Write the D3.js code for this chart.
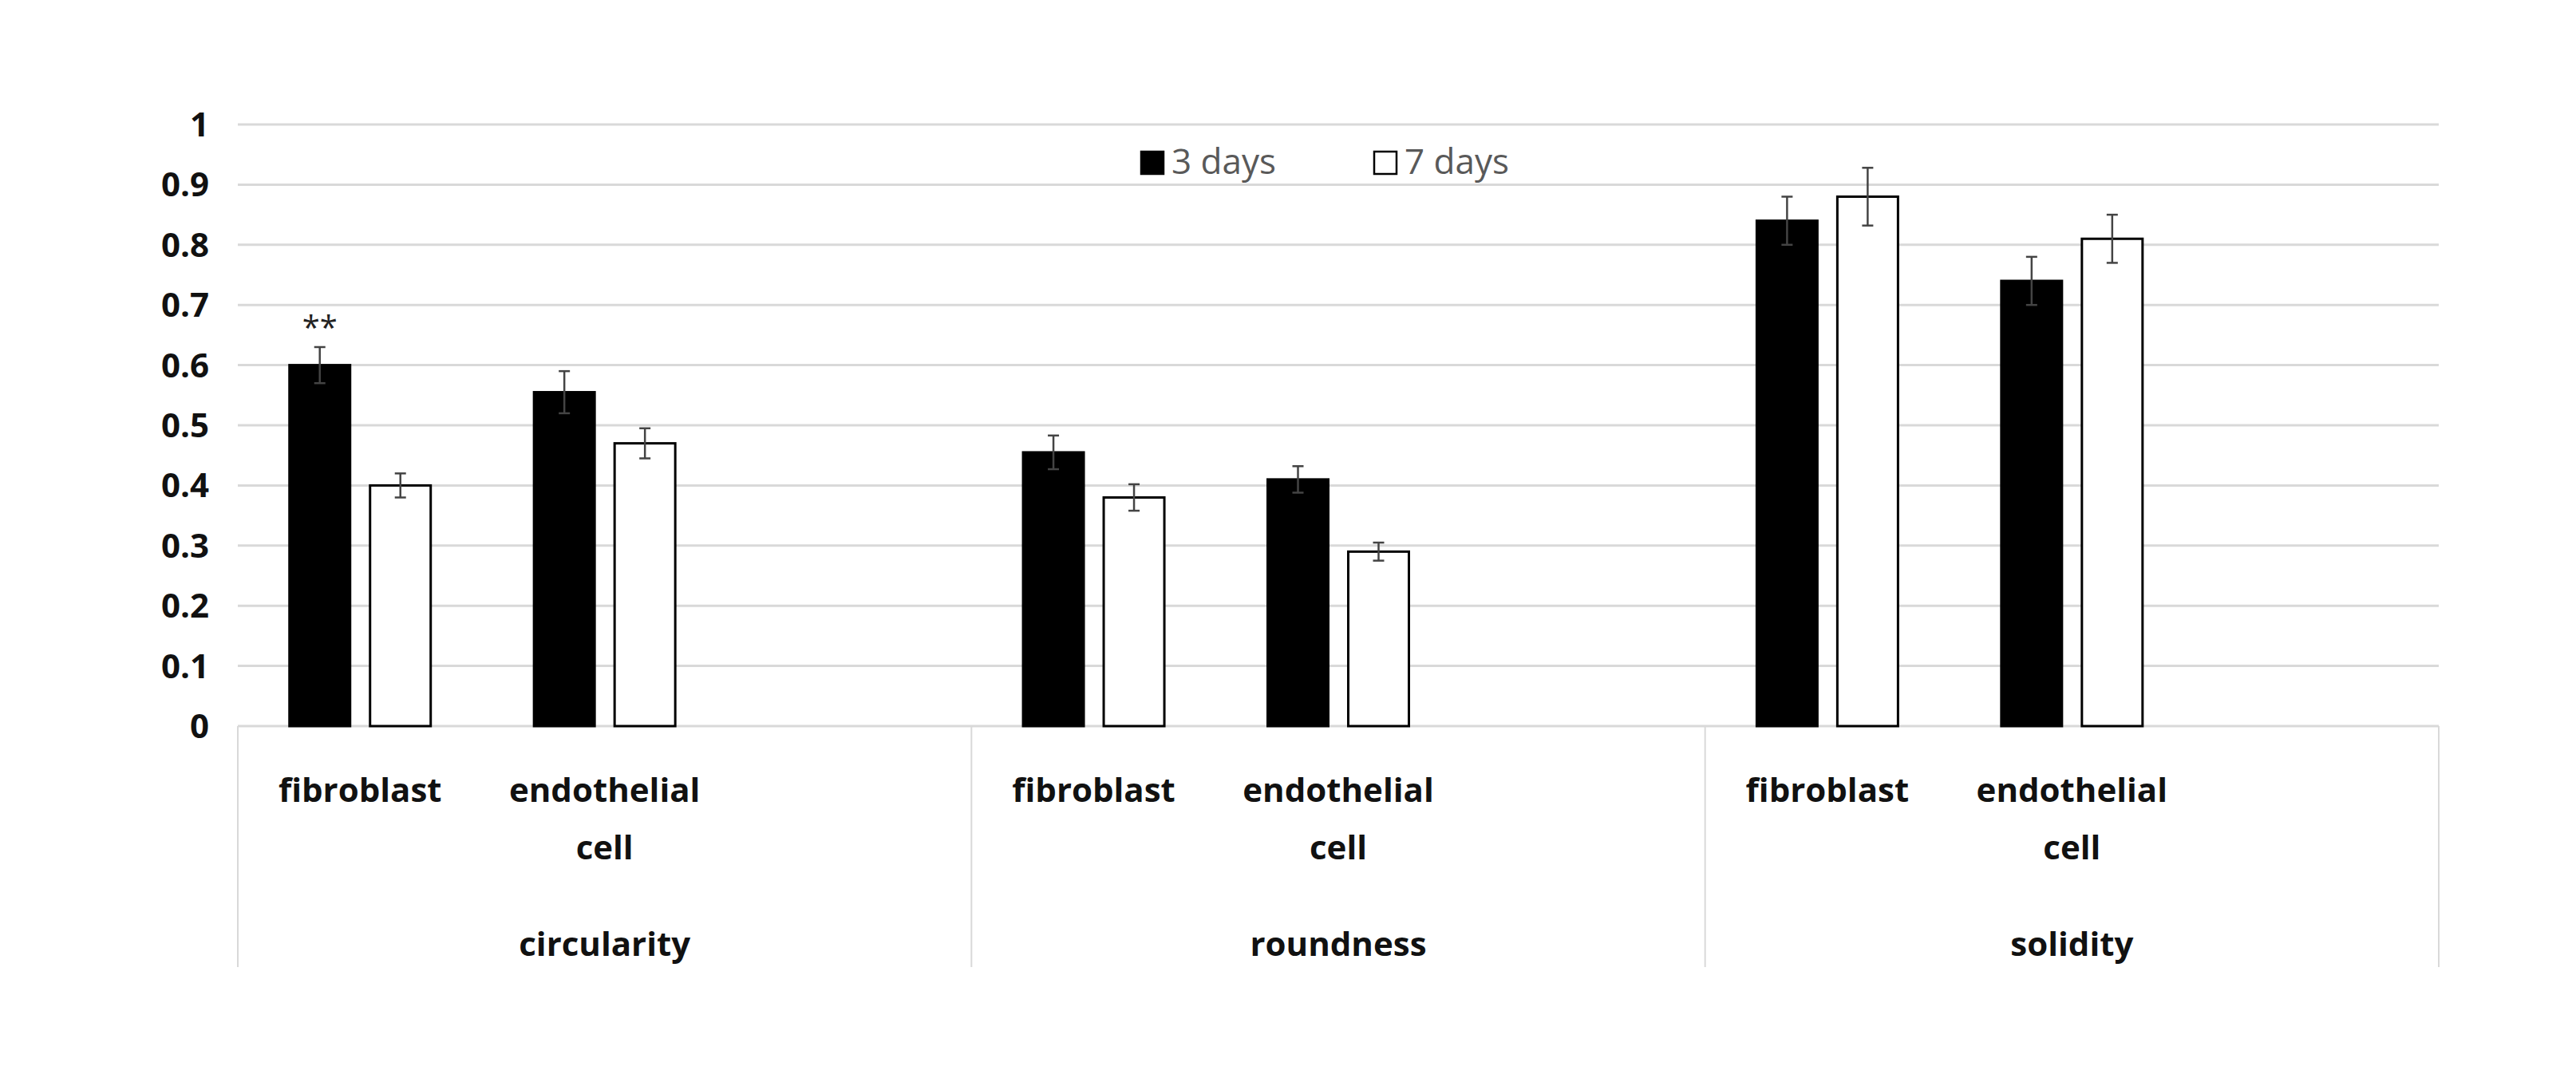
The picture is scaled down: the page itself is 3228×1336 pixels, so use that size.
<!DOCTYPE html>
<html>
<head>
<meta charset="utf-8">
<script src="https://cdn.jsdelivr.net/npm/d3@7"></script>
<style>
  body { margin: 0; background: #fff; }
  text { font-family: "Open Sans", sans-serif; }
</style>
</head>
<body>
<svg id="chart" width="3228" height="1336"></svg>
<script>
// Chart data
const groups = ["circularity", "roundness", "solidity"];
const cellTypes = ["fibroblast", "endothelial cell"];
const series = ["3 days", "7 days"];
// values[group][cellType] = [3 days, 7 days]
const values3 = [[0.60, 0.555], [0.455, 0.41], [0.84, 0.74]];
const values7 = [[0.40, 0.47], [0.38, 0.29], [0.88, 0.81]];
const errors3 = [[0.03, 0.035], [0.028, 0.022], [0.04, 0.04]];
const errors7 = [[0.02, 0.025], [0.022, 0.015], [0.048, 0.04]];
const yTicks = [0, 0.1, 0.2, 0.3, 0.4, 0.5, 0.6, 0.7, 0.8, 0.9, 1];

const svg = d3.select("#chart");
const plotLeft = 298, plotRight = 3056, plotTop = 156, plotBottom = 910;

const y = d3.scaleLinear().domain([0, 1]).range([plotBottom, plotTop]);
const xGroup = d3.scaleBand().domain(groups).range([plotLeft, plotRight]);
// three slots per group: two cell types and an empty one
const xSlot = d3.scaleBand().domain([0, 1, 2]).range([0, xGroup.bandwidth()]);

// gridlines
svg.append("g").selectAll("line").data(yTicks).join("line")
  .attr("x1", plotLeft).attr("x2", plotRight)
  .attr("y1", d => y(d)).attr("y2", d => y(d))
  .attr("stroke", "#d9d9d9").attr("stroke-width", 3);

// y tick labels
svg.append("g").selectAll("text").data(yTicks).join("text")
  .attr("x", 262).attr("y", d => y(d) + 15)
  .attr("text-anchor", "end")
  .attr("font-size", 42).attr("font-weight", "bold").attr("fill", "#111")
  .text(d => d);

// category dividers
const divs = groups.map(g => xGroup(g)).concat([plotRight]);
svg.append("g").selectAll("line").data(divs).join("line")
  .attr("x1", d => d).attr("x2", d => d)
  .attr("y1", plotBottom).attr("y2", 1212)
  .attr("stroke", "#d9d9d9").attr("stroke-width", 2);

// bars
const barW = 76, gap = 25;
const bars = [];
groups.forEach((g, gi) => {
  cellTypes.forEach((c, ci) => {
    const cx = xGroup(g) + xSlot(ci) + xSlot.bandwidth() / 2;
    bars.push({ x: cx - gap / 2 - barW, v: values3[gi][ci], e: errors3[gi][ci], fill: "#000" });
    bars.push({ x: cx + gap / 2, v: values7[gi][ci], e: errors7[gi][ci], fill: "#fff" });
  });
});

svg.append("g").selectAll("rect").data(bars).join("rect")
  .attr("x", d => d.x).attr("width", barW)
  .attr("y", d => y(d.v)).attr("height", d => y(0) - y(d.v))
  .attr("fill", d => d.fill).attr("stroke", "#000").attr("stroke-width", 3);

// error bars
const eb = svg.append("g").attr("stroke", "#444").attr("stroke-width", 2.5);
bars.forEach(d => {
  const cx = d.x + barW / 2;
  eb.append("line").attr("x1", cx).attr("x2", cx).attr("y1", y(d.v + d.e)).attr("y2", y(d.v - d.e));
  [d.v + d.e, d.v - d.e].forEach(v => {
    eb.append("line").attr("x1", cx - 7).attr("x2", cx + 7).attr("y1", y(v)).attr("y2", y(v));
  });
});

// significance marker
svg.append("text")
  .attr("x", bars[0].x + barW / 2).attr("y", y(values3[0][0] + errors3[0][0]) - 10)
  .attr("text-anchor", "middle").attr("font-size", 40).attr("fill", "#222")
  .text("**");

// x labels
groups.forEach(g => {
  cellTypes.forEach((c, ci) => {
    const cx = xGroup(g) + xSlot(ci) + xSlot.bandwidth() / 2;
    const lines = c.split(" ");
    lines.forEach((t, li) => {
      svg.append("text").attr("x", cx).attr("y", 1005 + li * 72)
        .attr("text-anchor", "middle").attr("font-size", 42).attr("font-weight", "bold").attr("fill", "#111")
        .text(t);
    });
  });
  svg.append("text").attr("x", xGroup(g) + xGroup.bandwidth() / 2).attr("y", 1198)
    .attr("text-anchor", "middle").attr("font-size", 42).attr("font-weight", "bold").attr("fill", "#111")
    .text(g);
});

// legend
const legend = svg.append("g");
const legendX = [1430, 1722];
series.forEach((s, i) => {
  legend.append("rect").attr("x", legendX[i]).attr("y", 190).attr("width", 28).attr("height", 28)
    .attr("fill", i === 0 ? "#000" : "#fff").attr("stroke", "#000").attr("stroke-width", 2.5);
  legend.append("text").attr("x", legendX[i] + 38).attr("y", 218)
    .attr("font-size", 44).attr("fill", "#595959").text(s);
});
</script>
</body>
</html>
